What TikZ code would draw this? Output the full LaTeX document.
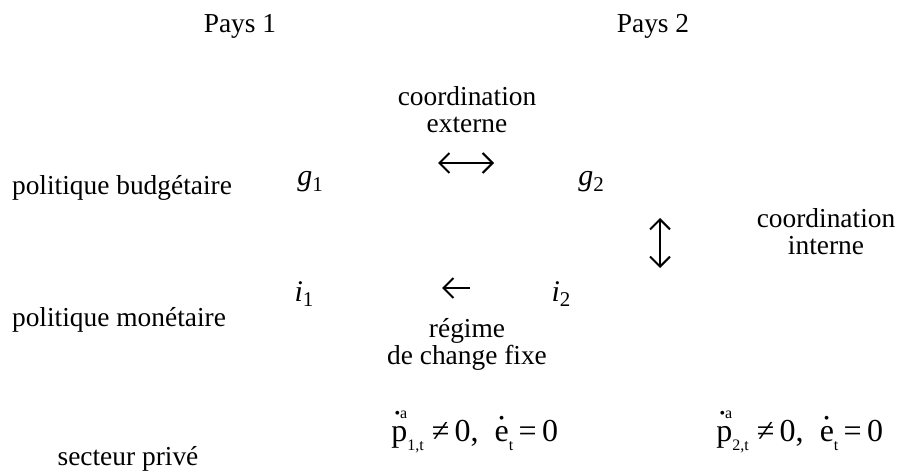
\documentclass[tikz,border=0pt]{standalone}
\usepackage{fontspec}
\setmainfont{Liberation Serif}
\usetikzlibrary{arrows.meta}
\newcommand{\subsz}{\fontsize{8}{8}\selectfont}
\newcommand{\pdota}[1]{\rlap{\raisebox{0.7em}{\hspace{0.1em}\subsz •a}}p\raisebox{-0.3em}{\subsz #1}}
\newcommand{\edot}{\rlap{\raisebox{0.55em}{\hspace{0.13em}\subsz •}}e\raisebox{-0.3em}{\subsz t}}
\begin{document}
\begin{tikzpicture}[x=0.5pt,y=-0.5pt,
  lbl/.style={font=\fontsize{13.7}{13.5}\selectfont, inner sep=0pt, align=center},
  frm/.style={font=\fontsize{16}{16}\selectfont, inner sep=0pt},
  var/.style={font=\fontsize{15}{15}\selectfont\itshape, inner sep=0pt},
  arr/.style={line width=1pt, {Straight Barb[length=5pt,width=10pt,line width=1pt]}-{Straight Barb[length=5pt,width=10pt,line width=1pt]}},
  larr/.style={line width=1pt, {Straight Barb[length=5pt,width=10pt,line width=1pt]}-}]
\useasboundingbox (0,0) rectangle (898,471);
\node[lbl] (pays1) at (240,26) {Pays 1};
\node[lbl] (pays2) at (653,26) {Pays 2};
\node[lbl] (cext) at (467,110) {coordination\\externe};
\node[lbl] (pb) at (122,188) {politique budgétaire};
\node[var] (g1) at (310,182) {g{\upshape\fontsize{10.5}{10.5}\selectfont\raisebox{-0.25em}{1}}};
\node[var] (g2) at (591,182) {g{\upshape\fontsize{10.5}{10.5}\selectfont\raisebox{-0.25em}{2}}};
\node[lbl] (cint) at (826,232) {coordination\\interne};
\node[var] (i1) at (304,294) {i{\upshape\fontsize{10.5}{10.5}\selectfont\raisebox{-0.25em}{1}}};
\node[var] (i2) at (561,294) {i{\upshape\fontsize{10.5}{10.5}\selectfont\raisebox{-0.25em}{2}}};
\node[lbl] (pm) at (119,320) {politique monétaire};
\node[lbl] (regime) at (467,344) {régime\\de change fixe};
\node[lbl] (sp) at (128,459) {secteur privé};
\node[frm, anchor=base west] (f1) at (391,441) {\pdota{1,t}\ ≠\,0,\ \ \edot\,=\,0};
\node[frm, anchor=base west] (f2) at (716,441) {\pdota{2,t}\ ≠\,0,\ \ \edot\,=\,0};
\coordinate (ea) at (438,163);
\coordinate (eb) at (494,163);
\coordinate (ia) at (660,218);
\coordinate (ib) at (660,268);
\coordinate (ra) at (442,288);
\coordinate (rb) at (470,288);
\draw[arr] (ea) -- (eb);
\draw[arr] (ia) -- (ib);
\draw[larr] (ra) -- (rb);
\end{tikzpicture}
\end{document}
